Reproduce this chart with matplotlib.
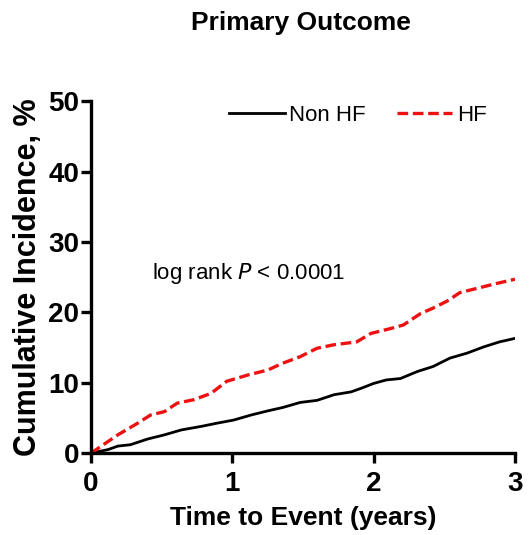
import matplotlib
matplotlib.use("Agg")
import matplotlib.pyplot as plt

plt.rcParams['font.family'] = ['Liberation Sans', 'DejaVu Sans']

# Kaplan-Meier style cumulative incidence
t_nonhf = [0, 0.12, 0.19, 0.28, 0.40, 0.52, 0.64, 0.78, 0.89, 1.01, 1.13, 1.25,
           1.36, 1.48, 1.60, 1.72, 1.84, 1.91, 2.00, 2.09, 2.19, 2.31, 2.42,
           2.54, 2.66, 2.78, 2.89, 3.00]
y_nonhf = [0, 0.5, 1.0, 1.2, 2.0, 2.6, 3.3, 3.8, 4.25, 4.7, 5.4, 6.0,
           6.5, 7.2, 7.5, 8.3, 8.7, 9.2, 9.9, 10.4, 10.6, 11.6, 12.3,
           13.5, 14.2, 15.1, 15.8, 16.3]

t_hf = [0, 0.19, 0.33, 0.42, 0.52, 0.61, 0.73, 0.85, 0.96, 1.11, 1.25, 1.36,
        1.48, 1.60, 1.72, 1.88, 1.98, 2.12, 2.21, 2.33, 2.42, 2.52, 2.61,
        2.73, 2.87, 3.00]
y_hf = [0, 2.6, 4.25, 5.4, 5.9, 7.1, 7.6, 8.5, 10.2, 11.1, 11.8, 12.8,
        13.7, 14.9, 15.4, 15.8, 17.0, 17.7, 18.2, 19.8, 20.6, 21.6, 22.8,
        23.4, 24.1, 24.7]

x_ticks = [0, 1, 2, 3]
y_ticks = [0, 10, 20, 30, 40, 50]

fig = plt.figure(figsize=(5.32, 5.35), dpi=100)
ax = fig.add_axes([0.171, 0.153, 0.797, 0.658])

ax.plot(t_nonhf, y_nonhf, color='black', lw=2.0, label='Non HF')
ax.plot(t_hf, y_hf, color='#ee1111', lw=2.4, ls=(0, (3.2, 1.4)), label='HF')

ax.set_xlim(0, 3)
ax.set_ylim(0, 50)
ax.set_xticks(x_ticks)
ax.set_yticks(y_ticks)

for s in ['top', 'right']:
    ax.spines[s].set_visible(False)
for s in ['left', 'bottom']:
    ax.spines[s].set_linewidth(2.4)
    ax.spines[s].set_clip_on(False)

ax.tick_params(width=2.4, length=7.5, labelsize=20)
ax.tick_params(axis='x', pad=5)
ax.tick_params(axis='y', pad=1)
for lbl in ax.get_xticklabels() + ax.get_yticklabels():
    lbl.set_fontweight('bold')

ax.set_xlabel('Time to Event (years)', fontsize=19, fontweight='bold', labelpad=7)
ax.set_ylabel('Cumulative Incidence, %', fontsize=22, fontweight='bold', labelpad=4)
fig.suptitle('Primary Outcome', x=0.565, y=0.98, fontsize=19, fontweight='bold')

ax.text(0.145, 0.495, 'log rank $\\it{P}$ < 0.0001', transform=ax.transAxes,
        fontsize=16)

ax.legend(loc='upper left', bbox_to_anchor=(0.305, 1.015), ncol=2, frameon=False,
          fontsize=16, handlelength=2.5, columnspacing=1.4, handletextpad=0.2,
          borderaxespad=0.0)

fig.savefig('out.png', dpi=100)
